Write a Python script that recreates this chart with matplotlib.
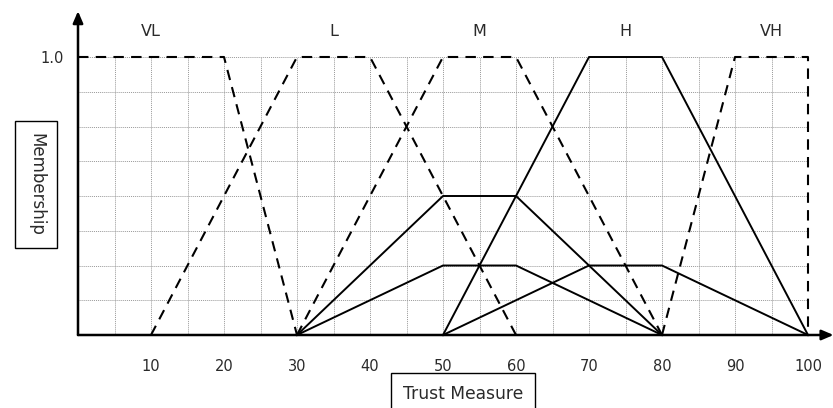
import matplotlib.pyplot as plt

plt.rcParams['font.family'] = ['DejaVu Sans']

# fuzzy sets (dashed)
set_names = ['VL', 'L', 'M', 'H', 'VH']
set_label_x = [10, 35, 55, 75, 95]
vl_x = [0, 20, 30]
vl_y = [1, 1, 0]
l_x = [10, 30, 40, 60]
l_y = [0, 1, 1, 0]
m_x = [30, 50, 60, 80]
m_y = [0, 1, 1, 0]
vh_x = [80, 90, 100, 100]
vh_y = [0, 1, 1, 0]

# H set and clipped results (solid)
h_x = [50, 70, 80, 100]
h_y = [0, 1, 1, 0]
cut1_x = [30, 50, 60, 80]
cut1_y = [0, 0.5, 0.5, 0]
cut2_x = [30, 50, 60, 80]
cut2_y = [0, 0.25, 0.25, 0]
cut3_x = [50, 70, 80, 100]
cut3_y = [0, 0.25, 0.25, 0]

x_ticks = [10, 20, 30, 40, 50, 60, 70, 80, 90, 100]

W, H = 833, 408
TXT = '#2a2a2a'
fig = plt.figure(figsize=(W / 100, H / 100), dpi=100)
ax = fig.add_axes([78 / W, (H - 335) / H, (808 - 78) / W, (335 - 57) / H])
ax.set_xlim(0, 100)
ax.set_ylim(0, 1)

# grid
for gx in range(5, 101, 5):
    ax.plot([gx, gx], [0, 1], color='#999999', lw=0.7, ls=(0, (1, 1)), zorder=1)
for i in range(1, 9):
    ax.plot([0, 100], [i * 0.125] * 2, color='#999999', lw=0.7, ls=(0, (1, 1)), zorder=1)

dash = (0, (5, 3.5))
for xs, ys in [(vl_x, vl_y), (l_x, l_y), (m_x, m_y), (vh_x, vh_y)]:
    ax.plot(xs, ys, color='black', lw=1.5, ls=dash, zorder=3, clip_on=False)
for xs, ys in [(h_x, h_y), (cut1_x, cut1_y), (cut2_x, cut2_y), (cut3_x, cut3_y)]:
    ax.plot(xs, ys, color='black', lw=1.4, zorder=3, clip_on=False)

for name, lx in zip(set_names, set_label_x):
    ax.text(lx, 1.09, name, ha='center', va='center', fontsize=11.5, color=TXT)

# axes with arrows
for s in ax.spines.values():
    s.set_visible(False)
ax.annotate('', xy=(103.5, 0), xytext=(0, 0), annotation_clip=False,
            arrowprops=dict(arrowstyle='-|>,head_length=0.7,head_width=0.3', color='black', lw=1.8,
                            shrinkA=0, shrinkB=0))
ax.annotate('', xy=(0, 1.165), xytext=(0, 0), annotation_clip=False,
            arrowprops=dict(arrowstyle='-|>,head_length=0.7,head_width=0.3', color='black', lw=1.8,
                            shrinkA=0, shrinkB=0))

ax.set_xticks(x_ticks)
ax.set_xticklabels([str(t) for t in x_ticks])
ax.set_yticks([1.0])
ax.set_yticklabels(['1.0'])
ax.tick_params(length=0, labelsize=10.5, colors=TXT)
ax.tick_params(axis='x', pad=17)
ax.tick_params(axis='y', pad=10)

fig.text(36 / W, 1 - 184.5 / H, 'Membership', rotation=-90, ha='center', va='center',
         fontsize=12, color=TXT,
         bbox=dict(boxstyle='square,pad=0.72', facecolor='white', edgecolor='black', lw=1))
fig.text(463 / W, 1 - 394 / H, 'Trust Measure', ha='center', va='center',
         fontsize=12.3, color=TXT,
         bbox=dict(boxstyle='square,pad=0.72', facecolor='white', edgecolor='black', lw=1))

fig.savefig('out.png', dpi=100)
